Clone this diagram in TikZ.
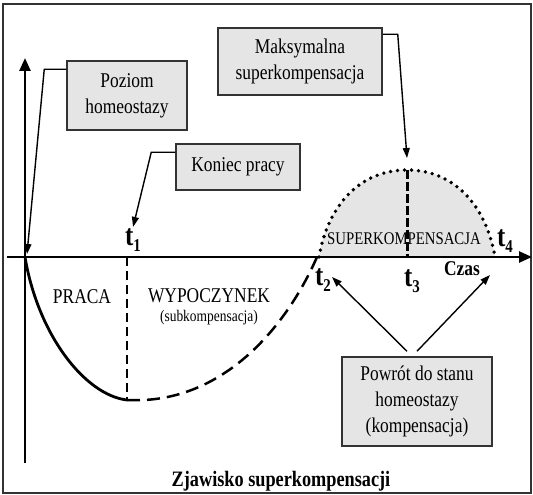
\documentclass[tikz,border=0pt]{standalone}
\usepackage{fontspec}
\setmainfont{Liberation Serif}[FakeStretch=0.83]
\usetikzlibrary{arrows, arrows.meta}

\newcommand{\fsz}[2]{\fontsize{#1}{#2}\selectfont}
\newcommand{\tlab}[1]{t\raisebox{-6pt}{\fsz{18}{18}#1}}

\tikzset{
  infobox/.style={draw=black!80, line width=1.5pt, fill=black!10, align=center, inner sep=0pt, font=\fsz{21}{26}},
  pointer/.style={line width=1.4pt, -{Triangle[length=10pt,width=7pt]}},
  axisline/.style={line width=2.5pt, -{Triangle[length=13pt,width=11pt]}},
  tlabel/.style={anchor=base west, inner sep=1pt, font=\fsz{30}{30}\bfseries},
  phase/.style={inner sep=0pt, font=\fsz{21}{21}},
}

\begin{document}
\begin{tikzpicture}[x=1pt,y=-1pt]
\useasboundingbox (0,0) rectangle (533,495);
%\draw[step=50,gray,very thin] (0,0) grid (533,495); %background grid
\draw[line width=1.5pt, black!80] (3,4) rectangle (531,493);

% points of the curve
\coordinate (O) at (25,257);
\coordinate (Otip) at (27,254);
\coordinate (ytop) at (25,58);
\coordinate (ybot) at (25,463);
\coordinate (xleft) at (7,257);
\coordinate (xend) at (532,257);
\coordinate (low) at (127,400);
\coordinate (cross) at (317,257);
\coordinate (dl) at (319,257);
\coordinate (peak) at (407,170);
\coordinate (dr) at (495,257);
\coordinate (maxtip) at (407,158);
\coordinate (ret2) at (332,277);
\coordinate (ret4) at (490,275);

% superkompensacja dome
\fill[black!10] (dl) .. controls (328,205) and (360,170) .. (peak)
  .. controls (454,170) and (486,205) .. (dr) -- cycle;
\draw[line width=3.8pt, line cap=round, dash pattern=on 0pt off 7pt]
  (dl) .. controls (328,205) and (360,170) .. (peak)
  .. controls (454,170) and (486,205) .. (dr);

% axes
\draw[axisline] (ybot) -- (ytop);
\draw[axisline] (xleft) -- (xend);

% work and rest
\draw[line width=2.8pt] (O) .. controls (38,335) and (85,395) .. (low);
\draw[line width=2.5pt, dash pattern=on 13pt off 7pt] (low) .. controls (220,405) and (285,330) .. (cross);
\draw[line width=2pt, dash pattern=on 9pt off 5pt] (127,257) -- (low);
\draw[line width=3pt, dash pattern=on 9pt off 3pt] (peak) -- (407,257);

% labels on the axis
\node[tlabel] (t1) at (124,245) {\tlab{1}};
\node[tlabel] (t2) at (314,285) {\tlab{2}};
\node[tlabel] (t3) at (403,286) {\tlab{3}};
\node[tlabel] (t4) at (496,246) {\tlab{4}};
\node[anchor=base, inner sep=0pt, font=\fsz{21}{21}\bfseries] (czas) at (462,275) {Czas};

\node[phase] (praca) at (82,297) {PRACA};
\node[phase] (wypoczynek) at (209,296) {WYPOCZYNEK};
\node[inner sep=0pt, font=\fsz{16.2}{16.2}] (subkomp) at (209,318) {(subkompensacja)};
\node[inner sep=0pt, font=\fsz{17.8}{17.8}] (superkomp) at (404,239) {SUPERKOMPENSACJA};

% boxes
\node[infobox, minimum width=120pt, minimum height=69pt] (poziom) at (127,95.5) {Poziom\\homeostazy};
\node[infobox, minimum width=124pt, minimum height=46pt] (koniec) at (238,167) {Koniec pracy};
\node[infobox, minimum width=164pt, minimum height=67pt] (maks) at (300,61.5) {Maksymalna\\superkompensacja};
\node[infobox, minimum width=150pt, minimum height=89pt] (powrot) at (417,401.5) {Powrót do stanu\\homeostazy\\(kompensacja)};

\draw[pointer] ([yshift=-9pt]poziom.north west) -- ++(-22,0) -- (Otip);
\draw[pointer] ([yshift=-9pt]koniec.north west) -- ++(-24,0) -- (t1.north);
\draw[pointer] ([yshift=-7pt]maks.north east) -- ++(15,0) -- (maxtip);
\draw[pointer] ([xshift=-10pt,yshift=5pt]powrot.north) -- (ret2);
\draw[pointer] ([yshift=5pt]powrot.north) -- (ret4);

\node[anchor=base, inner sep=0pt, font=\fsz{22}{22}\bfseries] (title) at (281,486) {Zjawisko superkompensacji};
\end{tikzpicture}
\end{document}
